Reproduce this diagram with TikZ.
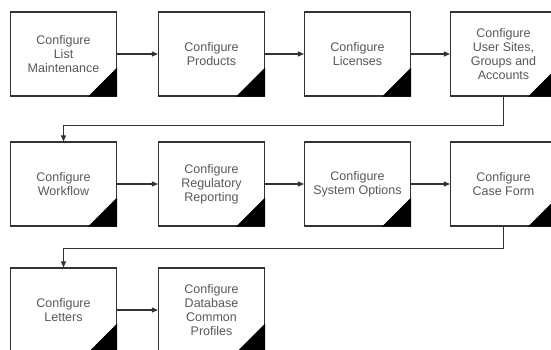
\documentclass[tikz,border=0pt]{standalone}
\usepackage{fontspec}
\setmainfont{Liberation Sans}
\usetikzlibrary{arrows.meta}

\begin{document}
\begin{tikzpicture}[x=1pt,y=-1pt,
  stage/.style={draw=black!80,line width=1.1pt,fill=white,rectangle,
    minimum width=106pt,minimum height=84pt,inner sep=2pt,align=center,
    text=black!65,font=\fontsize{12.5}{14}\selectfont},
  flow/.style={draw=black!80,line width=1.1pt,-{Triangle[length=6pt,width=5pt]}}]

\useasboundingbox (0,0) rectangle (551,350);
\clip (0,0) rectangle (551,350);

% Draw the first row
  \node[stage] (list) at (63.5,54) {Configure\\List\\Maintenance};
  \node[stage] (products) at (211.5,54) {Configure\\Products};
  \node[stage] (licenses) at (357.5,54) {Configure\\Licenses};
  \node[stage] (users) at (503.5,54) {Configure\\User Sites,\\Groups and\\Accounts};

% Draw the second row
  \node[stage] (workflow) at (63.5,184) {Configure\\Workflow};
  \node[stage] (regulatory) at (211.5,184) {Configure\\Regulatory\\Reporting};
  \node[stage] (system) at (357.5,184) {Configure\\System Options};
  \node[stage] (caseform) at (503.5,184) {Configure\\Case Form};

% Draw the third row
  \node[stage] (letters) at (63.5,310) {Configure\\Letters};
  \node[stage] (database) at (211.5,310) {Configure\\Database\\Common\\Profiles};

% Black corners
  \foreach \n in {list,products,licenses,users,workflow,regulatory,system,caseform,letters,database}
    \fill (\n.south east) -- ++(-29pt,0pt) -- ++(29pt,29pt) -- cycle;

% Arrows along the rows
  \draw[flow] (list) -- (products);
  \draw[flow] (products) -- (licenses);
  \draw[flow] (licenses) -- (users);
  \draw[flow] (workflow) -- (regulatory);
  \draw[flow] (regulatory) -- (system);
  \draw[flow] (system) -- (caseform);
  \draw[flow] (letters) -- (database);

% Arrows back to the next row
  \draw[flow] (users.south) -- ++(0,29) -| (workflow.north);
  \draw[flow] (caseform.south) -- ++(0,22) -| (letters.north);

\end{tikzpicture}
\end{document}
